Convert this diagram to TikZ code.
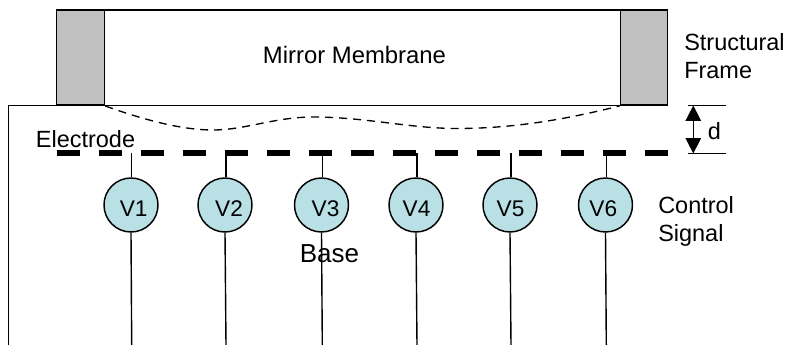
\documentclass[tikz,border=0pt]{standalone}
\usepackage{fontspec}
\setmainfont{Liberation Sans}
\usetikzlibrary{arrows.meta}
\definecolor{framegray}{RGB}{192,192,192}
\definecolor{signalfill}{RGB}{185,224,228}
\tikzset{
  x=0.75pt,y=-0.75pt,
  ln/.style={draw=black,line width=1.1pt},
  thinln/.style={draw=black,line width=1.05pt},
  framebox/.style={draw=black,line width=1.2pt,fill=framegray,minimum width=36pt,inner sep=0pt},
  sig/.style={circle,draw=black,line width=1.1pt,fill=signalfill,minimum size=40.5pt,inner sep=0pt},
  siglab/.style={font=\fontsize{17}{19}\selectfont,inner sep=0pt},
  lab/.style={font=\fontsize{17.6}{20.6}\selectfont,inner sep=0pt},
}
\begin{document}
\begin{tikzpicture}
\useasboundingbox (0,0) rectangle (785,345);
% base outline
\coordinate (bl) at (8.5,345);
\coordinate (bt) at (8.5,105.5);
\coordinate (br) at (668,105.5);
\draw[ln] (bl) -- (bt) -- (br);
% membrane
\coordinate (mtl) at (56.5,10);
\coordinate (mtr) at (668,10);
\draw[ln] (mtl) -- (mtr);
\node[framebox,minimum height=71.25pt,minimum width=36pt] (fl) at (80.5,57.7) {};
\node[framebox,minimum height=71.25pt,minimum width=35.5pt] (fr) at (644,57.7) {};
\node[lab,font=\fontsize{17.9}{20}\selectfont] (mm) at (354.5,55) {Mirror Membrane};
% deflected membrane
\draw[black,line width=1pt,dash pattern=on 6pt off 4.5pt]
  (fl.south east) .. controls (150,122) and (185,130) .. (213,130)
  .. controls (245,130) and (275,117) .. (313,117)
  .. controls (365,117) and (410,128.5) .. (457,128.5)
  .. controls (520,128.5) and (575,117) .. (fr.south west);
% electrode
\coordinate (el) at (56.5,153.5);
\coordinate (er) at (668,153.5);
\draw[black,line width=4.5pt,dash pattern=on 17.6pt off 13.9pt] (el) -- (er);
\node[lab] (elab) at (85.5,139) {Electrode};
\node[lab,font=\fontsize{19.5}{22}\selectfont] (base) at (329.5,254) {Base};
% signals
\foreach \n/\x/\bx/\tx in {1/131/131.7/133.7,2/225/226/229,3/321.5/322.3/325.5,4/416/417/416.5,5/510/511/510.5,6/605.5/606.3/603.3}{
  \node[sig] (v\n) at (\x,205) {};
  \node[siglab] (vl\n) at (\tx,209) {V\n};
  \coordinate (t\n) at (\bx,153.5);
  \coordinate (b\n) at (\bx,345);
  \draw[thinln] (t\n) -- (t\n |- v\n.north);
  \draw[thinln] (v\n.south) -- (b\n);
}
% right labels
\node[lab,align=left,anchor=west] (sf) at (684,56) {Structural\\Frame};
\node[lab,align=left,anchor=west] (cs) at (658,221.5) {Control\\Signal};
% dimension
\coordinate (d1a) at (688,105.5);
\coordinate (d1b) at (726,105.5);
\coordinate (d2a) at (688,153.5);
\coordinate (d2b) at (726,153.5);
\draw[ln] (d1a) -- (d1b);
\draw[ln] (d2a) -- (d2b);
\coordinate (dt) at (693.3,105.5);
\coordinate (db) at (693.3,153.5);
\draw[ln,{Triangle[length=11.5pt,width=11.5pt]}-{Triangle[length=11.5pt,width=11.5pt]}] (dt) -- (db);
\node[lab] (d) at (714.5,131) {d};
\end{tikzpicture}
\end{document}
